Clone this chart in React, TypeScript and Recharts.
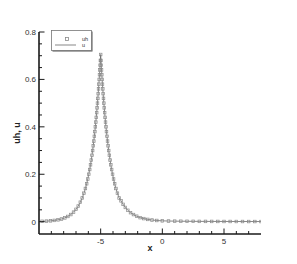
import { Line, LineChart, XAxis, YAxis } from 'recharts';

// grid points (refined near the peak at x = -5)
const xs = [
  -9.75, -9.4, -9.07, -8.76, -8.46, -8.18, -7.91, -7.66, -7.42, -7.2, -7.0, -6.82, -6.65,
  -6.497, -6.357, -6.238, -6.135, -6.045, -5.964, -5.89, -5.823, -5.762, -5.705, -5.652,
  -5.602, -5.556, -5.512, -5.47, -5.431, -5.393, -5.357, -5.323, -5.29, -5.259, -5.229,
  -5.2, -5.172, -5.145, -5.119, -5.093, -5.069, -5.045, -5.022, -5.0,
  -4.978, -4.955, -4.931, -4.907, -4.881, -4.855, -4.828, -4.8, -4.771, -4.741, -4.71,
  -4.677, -4.643, -4.607, -4.569, -4.53, -4.488, -4.444, -4.398, -4.348, -4.295, -4.238,
  -4.177, -4.11, -4.036, -3.955, -3.865, -3.762, -3.643, -3.503, -3.35, -3.18, -3.0, -2.8,
  -2.58, -2.34, -2.08, -1.8, -1.5, -1.18, -0.84, -0.45, 0, 0.5, 1, 1.5, 2, 2.5, 3, 3.5, 4,
  4.5, 5, 5.5, 6, 6.5, 7, 7.5, 8,
];

const uhValues = [
  0.0015, 0.0023, 0.0035, 0.0053, 0.0078, 0.0112, 0.0159, 0.022, 0.0301, 0.0401, 0.052,
  0.0657, 0.082, 0.1, 0.12, 0.14, 0.16, 0.18, 0.2, 0.22, 0.24, 0.26, 0.28, 0.3, 0.32, 0.34,
  0.36, 0.38, 0.4, 0.42, 0.44, 0.46, 0.48, 0.5, 0.52, 0.54, 0.56, 0.58, 0.6, 0.62, 0.64,
  0.66, 0.68, 0.705,
  0.68, 0.66, 0.64, 0.62, 0.6, 0.58, 0.56, 0.54, 0.52, 0.5, 0.48, 0.46, 0.44, 0.42, 0.4,
  0.38, 0.36, 0.34, 0.32, 0.3, 0.28, 0.26, 0.24, 0.22, 0.2, 0.18, 0.16, 0.14, 0.12, 0.1,
  0.088, 0.073, 0.06, 0.048, 0.038, 0.03, 0.023, 0.017, 0.013, 0.0095, 0.007, 0.005,
  0.0035, 0.0027, 0.0022, 0.0019, 0.0016, 0.0014, 0.0012, 0.0011, 0.001, 0.0009, 0.0008,
  0.0008, 0.0007, 0.0007, 0.0006, 0.0006, 0.0005,
];

// exact solution: indistinguishable from uh at this scale
const uValues = uhValues;

const xTicks = [-9, -8, -7, -6, -5, -4, -3, -2, -1, 0, 1, 2, 3, 4, 5, 6, 7];
const xLabels = [-5, 0, 5];
const yTicks = [0, 0.05, 0.1, 0.15, 0.2, 0.25, 0.3, 0.35, 0.4, 0.45, 0.5, 0.55, 0.6, 0.65, 0.7, 0.75, 0.8];
const yLabels = ['0', '0.2', '0.4', '0.6', '0.8'];

const FONT = '"Liberation Sans", Arial, sans-serif';
const AXIS = '#1a1a1a';
const MARK = '#8a8a8a';

const rows = xs.map((x, i) => ({ x, uh: uhValues[i], u: uValues[i] }));

function XTick(props: any) {
  const { x, y, payload } = props;
  const major = xLabels.includes(payload.value);
  return (
    <g>
      <line x1={x} x2={x} y1={y} y2={y - (major ? 5.5 : 3)} stroke={AXIS} strokeWidth={1} />
      {major && (
        <text x={x} y={y + 10} textAnchor="middle" fontSize={8} fontFamily={FONT} fill="#333">
          {payload.value}
        </text>
      )}
    </g>
  );
}

function YTick(props: any) {
  const { x, y, payload } = props;
  const label = String(Math.round(payload.value * 100) / 100);
  const major = yLabels.includes(label);
  return (
    <g>
      <line x1={x} x2={x + (major ? 5.5 : 3)} y1={y} y2={y} stroke={AXIS} strokeWidth={1} />
      {major && (
        <text x={x - 3} y={y + 3} textAnchor="end" fontSize={8} fontFamily={FONT} fill="#333">
          {label}
        </text>
      )}
    </g>
  );
}

function LegendBox() {
  return (
    <svg width={42} height={22} style={{ display: 'block' }}>
      <rect x={1.5} y={1.5} width={40} height={20} fill="#555" />
      <rect x={0.5} y={0.5} width={40} height={20} fill="#fff" stroke="#777" strokeWidth={0.8} />
      <rect x={14.5} y={7.5} width={3} height={3} fill="none" stroke={MARK} strokeWidth={0.8} />
      <text x={31} y={11} fontSize={5.5} fontFamily={FONT} fill="#333">uh</text>
      <line x1={4} x2={25} y1={15} y2={15} stroke="#555" strokeWidth={0.7} />
      <text x={31} y={17} fontSize={5.5} fontFamily={FONT} fill="#333">u</text>
    </svg>
  );
}

export default function App() {
  return (
    <div style={{ position: 'absolute', left: 0, top: 0, width: 297, height: 264, background: '#fff' }}>
      <LineChart width={297} height={264} data={rows} margin={{ top: 32, right: 36, bottom: 0, left: 0 }}>
        <XAxis
          dataKey="x"
          type="number"
          domain={[-10, 8]}
          ticks={xTicks}
          interval={0}
          height={30}
          tickSize={0}
          tickMargin={0}
          tickLine={false}
          tick={<XTick />}
          axisLine={{ stroke: AXIS, strokeWidth: 1.6 }}
          allowDataOverflow
        />
        <YAxis
          type="number"
          domain={[-0.052, 0.8]}
          ticks={yTicks}
          interval={0}
          width={39}
          tickSize={0}
          tickMargin={0}
          tickLine={false}
          tick={<YTick />}
          axisLine={{ stroke: AXIS, strokeWidth: 1.6 }}
          allowDataOverflow
        />
        <Line
          type="linear"
          dataKey="u"
          name="u"
          stroke="#555"
          strokeWidth={0.7}
          dot={false}
          isAnimationActive={false}
        />
        <Line
          type="linear"
          dataKey="uh"
          name="uh"
          stroke="none"
          dot={(p: any) => (
            <rect
              key={`m${p.index}`}
              x={p.cx - 1.3}
              y={p.cy - 1.3}
              width={2.6}
              height={2.6}
              fill="none"
              stroke={MARK}
              strokeWidth={0.7}
            />
          )}
          isAnimationActive={false}
        />
        <text x={150} y={251} textAnchor="middle" fontSize={9} fontWeight="bold" fontFamily={FONT} fill="#222">
          x
        </text>
        <text
          x={17}
          y={133}
          transform="rotate(-90 17 133)"
          textAnchor="middle"
          dominantBaseline="central"
          fontSize={9}
          fontWeight="bold"
          fontFamily={FONT}
          fill="#222"
        >
          uh, u
        </text>
      </LineChart>
      <div style={{ position: 'absolute', left: 51, top: 30 }}>
        <LegendBox />
      </div>
    </div>
  );
}
